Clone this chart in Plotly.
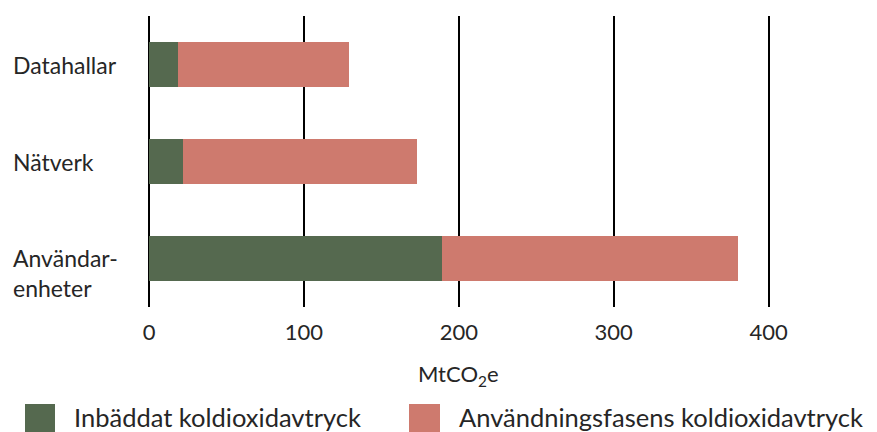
import plotly.graph_objects as go

categories = ["Datahallar", "Nätverk", "Användar-<br>enheter"]
embedded = [19, 22, 189]
use_phase = [110, 151, 191]
x_ticks = [0, 100, 200, 300, 400]
series_names = ["Inbäddat koldioxidavtryck", "Användningsfasens koldioxidavtryck"]
colors = ["#55694F", "#CE7A6E"]
x_title = "MtCO<sub>2</sub>e"

FONT = "Lato"
TXT = "#262626"

# figure geometry (page body has an 8px margin)
W, H = 869, 424
L, R, T, B = 141, 31, 8, 125
PW, PH = W - L - R, H - T - B


def px(xf):
    return (xf - L) / PW


def py(yf):
    return -(yf - (H - B)) / PH


fig = go.Figure()
for name, vals, col in zip(series_names, [embedded, use_phase], colors):
    fig.add_trace(go.Bar(y=categories, x=vals, orientation="h", name=name,
                         marker=dict(color=col, line=dict(width=0)), showlegend=False))

# category labels, left aligned
for c in categories:
    fig.add_annotation(x=px(3), xref="paper", y=c, yref="y", text=c, showarrow=False,
                       xanchor="left", align="left", yshift=-14 if "<br>" in c else 0,
                       font=dict(family=FONT, size=23, color=TXT))

# axis title
fig.add_annotation(x=px(450), xref="paper", y=py(367), yref="paper", text=x_title,
                   showarrow=False, xanchor="center", yanchor="middle",
                   font=dict(family=FONT, size=22, color=TXT))

# custom legend
leg_sq = [(17, 47), (401, 432)]
leg_tx = [64, 449]
for name, col, (x0, x1), tx in zip(series_names, colors, leg_sq, leg_tx):
    fig.add_shape(type="rect", xref="paper", yref="paper", x0=px(x0), x1=px(x1),
                  y0=py(396), y1=py(426), fillcolor=col, line=dict(width=0), layer="above")
    fig.add_annotation(x=px(tx), xref="paper", y=py(409), yref="paper", text=name,
                       showarrow=False, xanchor="left", yanchor="middle",
                       font=dict(family=FONT, size=25.5, color=TXT))

fig.update_layout(
    width=W, height=H,
    barmode="stack", bargap=0.546,
    plot_bgcolor="white", paper_bgcolor="white",
    margin=dict(l=L, r=R, t=T, b=B, autoexpand=False),
    font=dict(family=FONT, size=22, color=TXT),
    xaxis=dict(range=[0, 450], tickvals=x_ticks, showgrid=True, gridcolor="black", gridwidth=2,
               zeroline=True, zerolinecolor="black", zerolinewidth=2, showline=False,
               ticks="", tickfont=dict(size=22, color=TXT), ticklabelstandoff=10,
               automargin=False),
    yaxis=dict(autorange="reversed", showticklabels=False, showgrid=False, zeroline=False,
               showline=False, automargin=False),
    showlegend=False,
)

fig.write_html("out.html")
